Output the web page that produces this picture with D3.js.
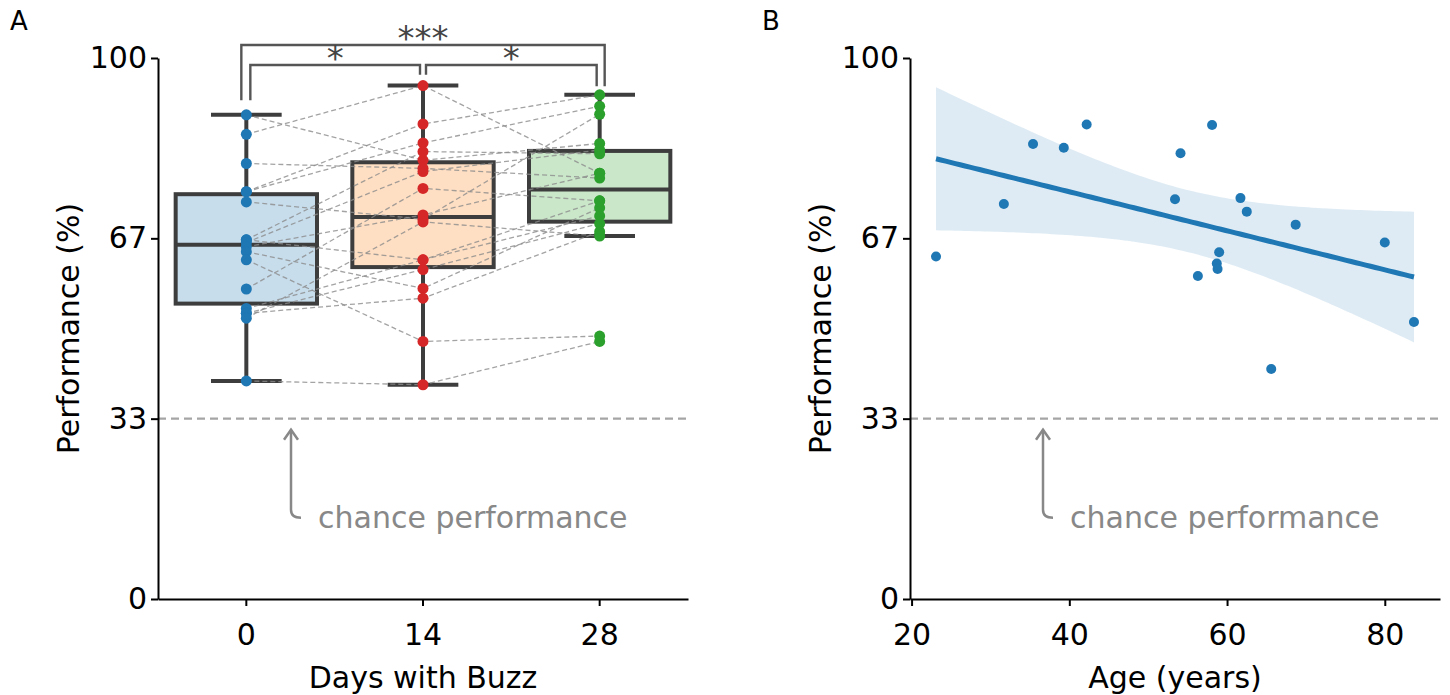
<!DOCTYPE html>
<html>
<head>
<meta charset="utf-8">
<script src="https://cdn.jsdelivr.net/npm/d3@7"></script>
<style>
  body { margin: 0; background: #fff; }
  svg text { font-family: "DejaVu Sans", sans-serif; }
</style>
</head>
<body>
<svg id="chart" width="1450" height="695"></svg>
<script>
// Panel A: performance per subject on each day (same subject order in each array)
var days = ["0", "14", "28"];
var day0 = [89.5, 85.9, 80.5, 75.3, 75.3, 73.4, 66.4, 66.4, 65.9, 65.1, 64.2, 62.7, 57.3, 53.7, 52.8, 52.8, 51.9, 40.3];
var day14 = [81.1, 94.9, 79.6, 87.8, 84.3, 70.2, 82.7, 62.7, 79.0, 71.0, 57.4, 47.6, 75.9, 62.7, 60.9, 55.6, 69.7, 39.6];
var day28 = [84.2, 78.7, 77.8, 93.2, 91.1, 89.6, 82.3, 73.6, 83.0, 78.7, 72.3, 48.6, 73.6, 70.8, 69.4, 67.9, 67.1, 47.6];

// Panel B: age vs performance
var ages = [23.1, 31.7, 35.4, 39.3, 42.2, 53.4, 54.1, 56.3, 58.1, 58.7, 58.8, 59.0, 61.7, 62.5, 65.6, 68.7, 80.0, 83.7];
var agePerf = [63.3, 73.0, 84.1, 83.4, 87.7, 73.9, 82.4, 59.7, 87.6, 62.0, 61.0, 64.1, 74.1, 71.6, 42.5, 69.2, 65.9, 51.2];

var yTicks = [0, 100 / 3, 200 / 3, 100];
var yTickLabels = ["0", "33", "67", "100"];
var ageTicks = [20, 40, 60, 80];
var chance = 100 / 3;

var COLORS = { blue: "#1f77b4", red: "#d62728", green: "#2ca02c", orange: "#ff7f0e" };
var dotColors = [COLORS.blue, COLORS.red, COLORS.green];
var boxColors = [COLORS.blue, COLORS.orange, COLORS.green];
var edge = "#3d3d3d";
var fontSize = 30;

var svg = d3.select("#chart");

var plotTop = 58, plotBottom = 599;
var yScale = d3.scaleLinear().domain([0, 100]).range([plotBottom, plotTop]);

// ---------- Panel A ----------
var ax = { left: 158, right: 688 };
var xBand = d3.scaleBand().domain(days).range([ax.left, ax.right]);
var boxW = xBand.bandwidth() * 0.8;
var center = (d) => xBand(d) + xBand.bandwidth() / 2;

var gA = svg.append("g").attr("class", "panel-a");

// chance line
gA.append("line")
  .attr("x1", ax.left).attr("x2", ax.right)
  .attr("y1", yScale(chance)).attr("y2", yScale(chance))
  .attr("stroke", "#a5a5a5").attr("stroke-width", 2.2).attr("stroke-dasharray", "8,5");

function boxStats(vals) {
  var s = vals.slice().sort(d3.ascending);
  var q1 = d3.quantile(s, 0.25), med = d3.quantile(s, 0.5), q3 = d3.quantile(s, 0.75);
  var iqr = q3 - q1;
  return {
    q1: q1, med: med, q3: q3,
    lo: d3.min(s.filter((v) => v >= q1 - 1.5 * iqr)),
    hi: d3.max(s.filter((v) => v <= q3 + 1.5 * iqr)),
  };
}

var series = [day0, day14, day28];
var stats = series.map(boxStats);

// box fills first
gA.selectAll(".box-fill")
  .data(stats)
  .enter()
  .append("rect")
  .attr("x", (d, i) => center(days[i]) - boxW / 2)
  .attr("y", (d) => yScale(d.q3))
  .attr("width", boxW)
  .attr("height", (d) => yScale(d.q1) - yScale(d.q3))
  .attr("fill", (d, i) => boxColors[i])
  .attr("fill-opacity", 0.25);

// box outlines, whiskers, caps
var boxes = gA.selectAll(".box").data(stats).enter().append("g").attr("class", "box");
boxes.append("rect")
  .attr("x", (d, i) => center(days[i]) - boxW / 2)
  .attr("y", (d) => yScale(d.q3))
  .attr("width", boxW)
  .attr("height", (d) => yScale(d.q1) - yScale(d.q3))
  .attr("fill", "none").attr("stroke", edge).attr("stroke-width", 4);
boxes.append("line")
  .attr("x1", (d, i) => center(days[i]) - boxW / 2).attr("x2", (d, i) => center(days[i]) + boxW / 2)
  .attr("y1", (d) => yScale(d.med)).attr("y2", (d) => yScale(d.med))
  .attr("stroke", edge).attr("stroke-width", 4);
[["q3", "hi"], ["q1", "lo"]].forEach(function (p) {
  boxes.append("line")
    .attr("x1", (d, i) => center(days[i])).attr("x2", (d, i) => center(days[i]))
    .attr("y1", (d) => yScale(d[p[0]])).attr("y2", (d) => yScale(d[p[1]]))
    .attr("stroke", edge).attr("stroke-width", 4);
  boxes.append("line")
    .attr("x1", (d, i) => center(days[i]) - boxW / 4).attr("x2", (d, i) => center(days[i]) + boxW / 4)
    .attr("y1", (d) => yScale(d[p[1]])).attr("y2", (d) => yScale(d[p[1]]))
    .attr("stroke", edge).attr("stroke-width", 4);
});

// subject lines
var subjects = day0.map((v, i) => [day0[i], day14[i], day28[i]]);
var line = d3.line().x((d, i) => center(days[i])).y((d) => yScale(d));
gA.selectAll(".subj")
  .data(subjects)
  .enter()
  .append("path")
  .attr("d", line)
  .attr("fill", "none")
  .attr("stroke", "#8c8c8c")
  .attr("stroke-opacity", 0.8)
  .attr("stroke-width", 1.3)
  .attr("stroke-dasharray", "5,3");

// dots
series.forEach(function (vals, i) {
  gA.append("g")
    .selectAll("circle")
    .data(vals)
    .enter()
    .append("circle")
    .attr("cx", center(days[i]))
    .attr("cy", (d) => yScale(d))
    .attr("r", 5.5)
    .attr("fill", dotColors[i]);
});

// significance brackets
var brackets = [
  { a: 0, b: 2, da: -5, db: 5, top: 102.4, ya: 92.2, yb: 94.8, label: "***" },
  { a: 0, b: 1, da: 4, db: -3, top: 98.7, ya: 92.2, yb: 96.9, label: "*" },
  { a: 1, b: 2, da: 3, db: -3, top: 98.7, ya: 96.9, yb: 94.8, label: "*" },
];
brackets.forEach(function (b) {
  var x1 = center(days[b.a]) + b.da, x2 = center(days[b.b]) + b.db;
  gA.append("path")
    .attr("d", `M${x1},${yScale(b.ya)}V${yScale(b.top)}H${x2}V${yScale(b.yb)}`)
    .attr("fill", "none").attr("stroke", "#555").attr("stroke-width", 2.4);
  gA.append("text")
    .attr("x", (x1 + x2) / 2)
    .attr("y", yScale(b.top) + 5)
    .attr("text-anchor", "middle")
    .style("font-size", "34px")
    .style("fill", "#444")
    .text(b.label);
});

function drawAxes(g, xAxis, left, right, xLabel, yLabelX) {
  var yAxis = d3.axisLeft(yScale)
    .tickValues(yTicks)
    .tickFormat((d, i) => yTickLabels[i])
    .tickSize(7).tickSizeOuter(0).tickPadding(4);
  var ya = g.append("g").attr("transform", `translate(${left},0)`).call(yAxis);
  var xa = g.append("g").attr("transform", `translate(0,${plotBottom})`).call(xAxis);
  [ya, xa].forEach(function (a) {
    a.select(".domain").attr("stroke", "#000").attr("stroke-width", 2);
    a.selectAll(".tick line").attr("stroke", "#000").attr("stroke-width", 2);
    a.selectAll("text").style("font-size", fontSize + "px").style("font-family", '"DejaVu Sans", sans-serif').attr("fill", "#000");
  });
  g.append("text")
    .attr("x", (left + right) / 2)
    .attr("y", 688)
    .attr("text-anchor", "middle")
    .style("font-size", fontSize + "px")
    .text(xLabel);
  g.append("text")
    .attr("transform", `translate(${yLabelX},${(plotTop + plotBottom) / 2}) rotate(-90)`)
    .attr("text-anchor", "middle")
    .attr("dy", "0.35em")
    .style("font-size", fontSize + "px")
    .text("Performance (%)");
}

function drawChance(g, left) {
  var yTip = yScale(chance) + 11, yText = yScale(15), x = left + 133;
  g.append("path")
    .attr("d", `M${x},${yTip}V${yText - 8}Q${x},${yText} ${x + 10},${yText}`)
    .attr("fill", "none").attr("stroke", "#888").attr("stroke-width", 2.5);
  g.append("path")
    .attr("d", `M${x - 7},${yTip + 10}L${x},${yTip}L${x + 7},${yTip + 10}`)
    .attr("fill", "none").attr("stroke", "#888").attr("stroke-width", 2.5);
  g.append("text")
    .attr("x", left + 160)
    .attr("y", yText)
    .attr("dy", "0.35em")
    .style("font-size", fontSize + "px")
    .style("fill", "#888")
    .text("chance performance");
}

var xAxisA = d3.axisBottom(xBand).tickSize(7).tickSizeOuter(0).tickPadding(18);
drawAxes(gA, xAxisA, ax.left, ax.right, "Days with Buzz", 68);
drawChance(gA, ax.left);

// ---------- Panel B ----------
var bx = { left: 910, right: 1440 };
var xAge = d3.scaleLinear().domain([19.8, 87]).range([bx.left, bx.right]);
var gB = svg.append("g").attr("class", "panel-b");

gB.append("line")
  .attr("x1", bx.left).attr("x2", bx.right)
  .attr("y1", yScale(chance)).attr("y2", yScale(chance))
  .attr("stroke", "#a5a5a5").attr("stroke-width", 2.2).attr("stroke-dasharray", "8,5");

// linear fit with 95% confidence band
var n = ages.length;
var mx = d3.mean(ages), my = d3.mean(agePerf);
var sxx = d3.sum(ages, (x) => (x - mx) * (x - mx));
var sxy = d3.sum(ages, (x, i) => (x - mx) * (agePerf[i] - my));
var slope = sxy / sxx, intercept = my - slope * mx;
var sse = d3.sum(ages, (x, i) => Math.pow(agePerf[i] - (intercept + slope * x), 2));
var se = Math.sqrt(sse / (n - 2));
var tval = 2.12;
var grid = d3.range(100).map((i) => d3.min(ages) + (i / 99) * (d3.max(ages) - d3.min(ages)));
var fit = grid.map(function (x) {
  var yh = intercept + slope * x;
  var h = tval * se * Math.sqrt(1 / n + ((x - mx) * (x - mx)) / sxx);
  return { x: x, y: yh, lo: yh - h, hi: yh + h };
});

gB.append("path")
  .datum(fit)
  .attr("d", d3.area().x((d) => xAge(d.x)).y0((d) => yScale(d.lo)).y1((d) => yScale(d.hi)))
  .attr("fill", COLORS.blue)
  .attr("fill-opacity", 0.15);

gB.append("g")
  .selectAll("circle")
  .data(ages)
  .enter()
  .append("circle")
  .attr("cx", (d) => xAge(d))
  .attr("cy", (d, i) => yScale(agePerf[i]))
  .attr("r", 5)
  .attr("fill", COLORS.blue);

gB.append("path")
  .datum(fit)
  .attr("d", d3.line().x((d) => xAge(d.x)).y((d) => yScale(d.y)))
  .attr("fill", "none")
  .attr("stroke", COLORS.blue)
  .attr("stroke-width", 5);

var xAxisB = d3.axisBottom(xAge).tickValues(ageTicks).tickSize(7).tickSizeOuter(0).tickPadding(18);
drawAxes(gB, xAxisB, bx.left, bx.right, "Age (years)", 820);
drawChance(gB, bx.left);

// panel letters
svg.append("text").attr("x", 10).attr("y", 30).style("font-size", "26px").text("A");
svg.append("text").attr("x", 762).attr("y", 30).style("font-size", "26px").text("B");
</script>
</body>
</html>
